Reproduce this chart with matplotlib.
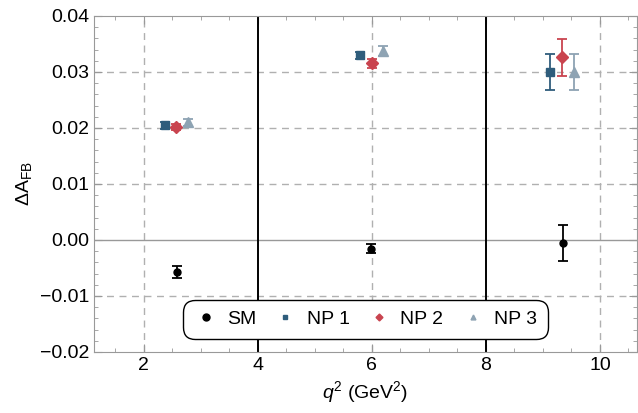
import matplotlib
matplotlib.use("Agg")
import matplotlib.pyplot as plt
from matplotlib.ticker import MultipleLocator

plt.rcParams['font.family'] = ['Liberation Sans', 'DejaVu Sans']
plt.rcParams['mathtext.fontset'] = 'custom'
plt.rcParams['mathtext.rm'] = 'Liberation Sans'
plt.rcParams['mathtext.it'] = 'Liberation Sans:italic'

# Data
sm_x = [2.58, 5.99, 9.36]
sm_y = [-0.0057, -0.0016, -0.0005]
sm_err = [0.0010, 0.0008, 0.0032]

np1_x = [2.37, 5.80, 9.13]
np1_y = [0.0205, 0.0330, 0.0300]
np1_err = [0.0006, 0.0006, 0.0033]

np2_x = [2.57, 6.00, 9.34]
np2_y = [0.0202, 0.0316, 0.0326]
np2_err = [0.0005, 0.0008, 0.0033]

np3_x = [2.77, 6.20, 9.55]
np3_y = [0.0210, 0.0337, 0.0300]
np3_err = [0.0006, 0.0009, 0.0033]

bin_edges = [4, 8]
labels = ["SM", "NP 1", "NP 2", "NP 3"]
colors = ["black", "#2f5d7c", "#c9444f", "#8ea3b3"]
markers = ["o", "s", "D", "^"]

fig = plt.figure(figsize=(6.38, 4.13), dpi=100)
ax = fig.add_axes([94/638, 1-352/413, (637-94)/638, (352-16)/413])

ax.set_xlim(1.13, 10.65)
ax.set_ylim(-0.02, 0.04)

# grid
for gx in [2, 6, 10]:
    ax.axvline(gx, color="#b0b0b0", ls=(0, (5, 4)), lw=1.0, zorder=0)
for gy in [-0.01, 0.01, 0.02, 0.03]:
    ax.axhline(gy, color="#b0b0b0", ls=(0, (5, 4)), lw=1.0, zorder=0)
ax.axhline(0, color="#999999", lw=1.0, zorder=1)

for e in bin_edges:
    ax.axvline(e, color="black", lw=1.4, zorder=2)

series = [(sm_x, sm_y, sm_err), (np1_x, np1_y, np1_err),
          (np2_x, np2_y, np2_err), (np3_x, np3_y, np3_err)]
msizes = [5, 5.5, 6, 7]
handles = []
for (xs, ys, es), lab, c, m, ms in zip(series, labels, colors, markers, msizes):
    ax.errorbar(xs, ys, yerr=es, fmt=m, color=c, ms=ms, capsize=3.5,
                elinewidth=1.3, capthick=1.3, zorder=3)
    h, = ax.plot([], [], m, color=c, ms=3.5 if m != "o" else 5, label=lab)
    handles.append(h)

leg = ax.legend(handles=handles, loc="lower center", ncol=4, fontsize=14,
                frameon=True, fancybox=True, framealpha=1, edgecolor="black",
                handletextpad=0.5, columnspacing=0.9, handlelength=1.2,
                bbox_to_anchor=(0.5, 0.01), borderpad=0.55)
leg.get_frame().set_linewidth(1.0)
leg.get_frame().set_boxstyle("round", pad=0.0, rounding_size=0.6)
leg.set_zorder(5)

ax.xaxis.set_major_locator(MultipleLocator(2))
ax.xaxis.set_minor_locator(MultipleLocator(0.5))
ax.yaxis.set_major_locator(MultipleLocator(0.01))
ax.yaxis.set_minor_locator(MultipleLocator(0.002))
ax.yaxis.set_major_formatter(plt.FuncFormatter(lambda v, p: f"{v:.2f}".replace("-", "\u2212")))
ax.tick_params(which="both", direction="in", top=True, right=True, colors="#999999",
               labelcolor="black", labelsize=14)
ax.tick_params(which="major", length=6)
ax.tick_params(which="minor", length=3)
for s in ax.spines.values():
    s.set_color("#999999")

ax.set_xlabel(r"$q^2$ (GeV$^2$)", fontsize=14)
ax.set_ylabel(r"$\Delta\mathrm{A}_{\mathrm{FB}}$", fontsize=14)

fig.savefig("out.png", dpi=100)
